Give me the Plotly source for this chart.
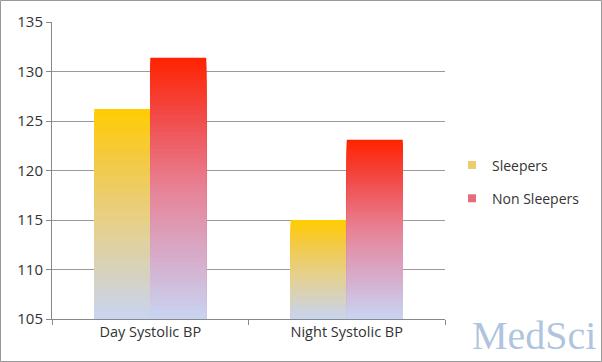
import plotly.graph_objects as go

categories = ["Day Systolic BP", "Night Systolic BP"]
series_names = ["Sleepers", "Non Sleepers"]
sleepers = [126.2, 115.0]
non_sleepers = [131.4, 123.1]
y_ticks = [105, 110, 115, 120, 125, 130, 135]

BASE = 105
N = 60

# gradient stops: (fraction of bar height, rgb)
grad_sleep = [(0.0, (200, 212, 240)), (0.45, (230, 208, 140)), (0.75, (243, 202, 70)), (1.0, (255, 204, 0))]
grad_non = [(0.0, (200, 212, 242)), (0.25, (215, 170, 200)), (0.5, (232, 130, 150)), (0.75, (240, 80, 80)), (1.0, (255, 34, 0))]


def interp(stops, f):
    for (f0, c0), (f1, c1) in zip(stops[:-1], stops[1:]):
        if f <= f1:
            t = (f - f0) / (f1 - f0) if f1 > f0 else 0
            return "rgb(%d,%d,%d)" % tuple(round(a + (b - a) * t) for a, b in zip(c0, c1))
    return "rgb(%d,%d,%d)" % stops[-1][1]


def gradient_bar(values, stops, offset, width):
    xs, ys, cols = [], [], []
    for i, v in enumerate(values):
        h = v - BASE
        step = h / N
        for k in range(N):
            top = v - k * step
            xs.append(i)
            ys.append(top - BASE)
            frac = (h - (k + 0.5) * step) / h
            cols.append(interp(stops, frac))
    return go.Bar(x=xs, y=ys, base=BASE, offset=offset, width=width,
                  marker=dict(color=cols, line=dict(width=0)),
                  showlegend=False, hoverinfo="skip")


fig = go.Figure()
fig.add_trace(gradient_bar(sleepers, grad_sleep, -0.285, 0.285))
fig.add_trace(gradient_bar(non_sleepers, grad_non, 0.0, 0.285))

# legend entries
fig.add_trace(go.Scatter(x=[None], y=[None], name=series_names[0], legendgroup="a", mode="markers",
                         marker=dict(symbol="square", size=8, color="rgb(236,205,110)")))
fig.add_trace(go.Scatter(x=[None], y=[None], name=series_names[1], legendgroup="b", mode="markers",
                         marker=dict(symbol="square", size=8, color="rgb(226,110,125)")))

L, R, T, B = 52, 157, 22, 43
W, H = 602, 362
pw, ph = W - L - R, H - T - B

fig.update_layout(
    width=W, height=H,
    margin=dict(l=L, r=R, t=T, b=B, autoexpand=False),
    paper_bgcolor="white", plot_bgcolor="white",
    barmode="overlay",
    font=dict(family="Open Sans, Lato, sans-serif", color="#333333", size=14),
    xaxis=dict(range=[-0.5, 1.5], tickvals=[0, 1], ticktext=categories,
               ticks="", showgrid=False, zeroline=False,
               showline=True, linecolor="#888888", linewidth=1,
               tickfont=dict(size=14.5),
               minor=dict(tickvals=[-0.5, 0.5, 1.5], ticks="outside", ticklen=5,
                          tickcolor="#888888", showgrid=False)),
    yaxis=dict(range=[105, 135], tickvals=y_ticks, ticks="outside", ticklen=5,
               tickcolor="#888888", showline=True, linecolor="#888888", linewidth=1,
               showgrid=True, gridcolor="#9a9a9a", gridwidth=1, zeroline=False,
               tickfont=dict(size=15)),
    legend=dict(x=(452 - L) / pw, y=(H - B - 182) / ph, xanchor="left", yanchor="middle",
                font=dict(size=14), traceorder="grouped", tracegroupgap=12,
                itemwidth=30, bgcolor="rgba(0,0,0,0)"),
    shapes=[dict(type="rect", xref="paper", yref="paper",
                 x0=(0.5 - L) / pw, x1=(W - 0.5 - L) / pw,
                 y0=-(B - 0.5) / ph, y1=(H - B - 0.5) / ph,
                 line=dict(color="#999999", width=1))],
    annotations=[dict(text="MedSci", xref="paper", yref="paper",
                      x=(598 - L) / pw, y=-(B - 2) / ph, xanchor="right", yanchor="bottom",
                      showarrow=False,
                      font=dict(family="Liberation Serif, Times New Roman, serif", size=40,
                                color="rgba(160,186,218,0.85)"))],
)

fig.write_html("out.html", config={"displayModeBar": False},
               post_script="document.body.style.margin='0';document.body.style.overflow='hidden';")
